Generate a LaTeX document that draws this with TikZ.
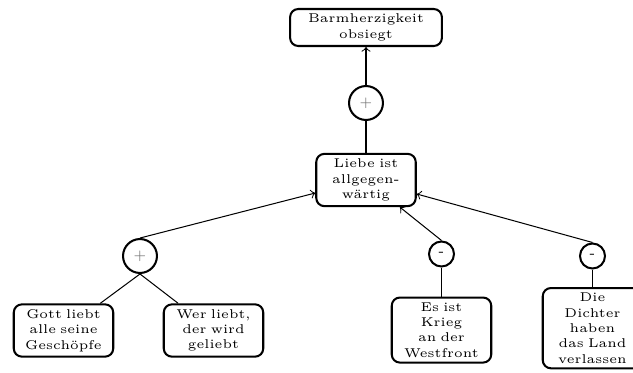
\documentclass[tikz,border=0pt]{standalone}
\usepackage{tikz}
\begin{document}
\begin{tikzpicture}[
  x=0.392pt, y=-0.392pt,
  claim/.style={draw, line width=0.8pt, rounded corners=3.2pt, align=center,
    font=\tiny, inner sep=2pt, text width=35pt},
  wide claim/.style={claim, text width=55.5pt},
  pro/.style={draw, circle, line width=0.8pt, minimum size=13.3pt, inner sep=0pt,
    font=\tiny, text=black!55},
  con/.style={draw, circle, line width=0.8pt, minimum size=9.8pt, inner sep=0pt,
    font=\tiny},
  link/.style={line width=0.4pt},
  support/.style={link, ->}
]
\useasboundingbox (0,0) rectangle (633,372);

\node[wide claim] (top) at (366,27.5) {Barmherzigkeit\\obsiegt};
\node[pro] (p0) at (366,103) {$+$};
\node[claim] (liebe) at (366,180) {Liebe ist\\allgegen-\\wärtig};

\node[pro] (p1) at (140,256) {$+$};
\node[claim] (gott) at (63.5,330.5) {Gott liebt\\alle seine\\Geschöpfe};
\node[claim] (wer) at (213.5,330.5) {Wer liebt,\\der wird\\geliebt};

\node[con] (m1) at (441.5,254) {-};
\node[claim, anchor=north] (krieg) at (441.5,296.5) {Es ist\\Krieg\\an der\\Westfront};

\node[con] (m2) at (592.5,256) {-};
\node[claim, anchor=north] (dichter) at (592.5,287) {Die\\Dichter\\haben\\das Land\\verlassen};

\draw[support] (p0.north) -- (top);
\draw[link] (p0.south) -- (liebe);
\draw[support] (p1.north) -- (liebe);
\draw[link] (p1.south) -- (gott);
\draw[link] (p1.south) -- (wer);
\draw[support] (m1.north) -- (liebe);
\draw[link] (m1.south) -- (krieg);
\draw[support] (m2.north) -- (liebe);
\draw[link] (m2.south) -- (dichter);
\end{tikzpicture}
\end{document}
